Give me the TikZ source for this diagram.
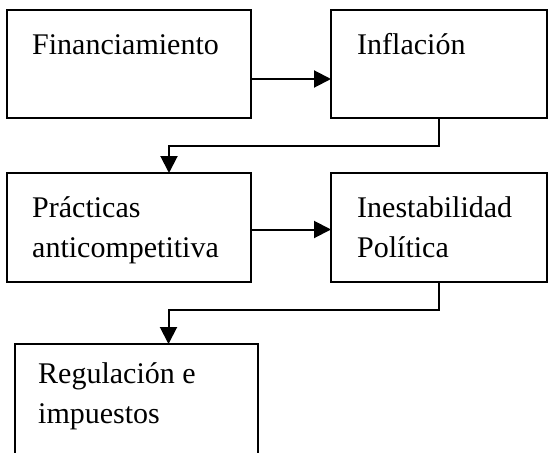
\documentclass[tikz,border=0pt]{standalone}
\usepackage{fontspec}
\setmainfont{Liberation Serif}
\usetikzlibrary{arrows.meta}
\begin{document}
\begin{tikzpicture}[x=1pt,y=-1pt,
  box/.style={draw,line width=2pt,rectangle,anchor=north west,inner sep=0pt,outer sep=0pt},
  lbl/.style={anchor=base west,inner sep=0pt,align=left,font=\fontsize{30}{40}\selectfont},
  arr/.style={line width=2pt,-{Triangle[length=17pt,width=17pt]}}]
\useasboundingbox (0,0) rectangle (553,452);
\clip (0,0) rectangle (553,452);
\node[box,minimum width=244pt,minimum height=108pt] (A) at (7,10) {};
\node[box,minimum width=216pt,minimum height=108pt] (B) at (331,10) {};
\node[box,minimum width=244pt,minimum height=109pt] (C) at (7,173) {};
\node[box,minimum width=216pt,minimum height=109pt] (D) at (331,173) {};
\node[box,minimum width=243pt,minimum height=130pt] (E) at (15,344) {};
\node[lbl] (tA) at (32,55) {Financiamiento};
\node[lbl] (tB) at (357,55) {Inflación};
\node[lbl] (tC) at (32,217) {Prácticas};
\node[lbl] (tC2) at (32,257) {anticompetitiva};
\node[lbl] (tD) at (357,217) {Inestabilidad};
\node[lbl] (tD2) at (357,257) {Política};
\node[lbl] (tE) at (38,383) {Regulación e};
\node[lbl] (tE2) at (38,423) {impuestos};
\draw[arr] ([yshift=-15pt]A.east) -- ([yshift=-15pt]B.west);
\draw[arr] ([yshift=-2pt]C.east) -- ([yshift=-2pt]D.west);
\draw[arr] (B.south) -- ++(0,28) -| ([xshift=40pt]C.north);
\draw[arr] (D.south) -- ++(0,28) -| ([xshift=32pt]E.north);
\end{tikzpicture}
\end{document}
